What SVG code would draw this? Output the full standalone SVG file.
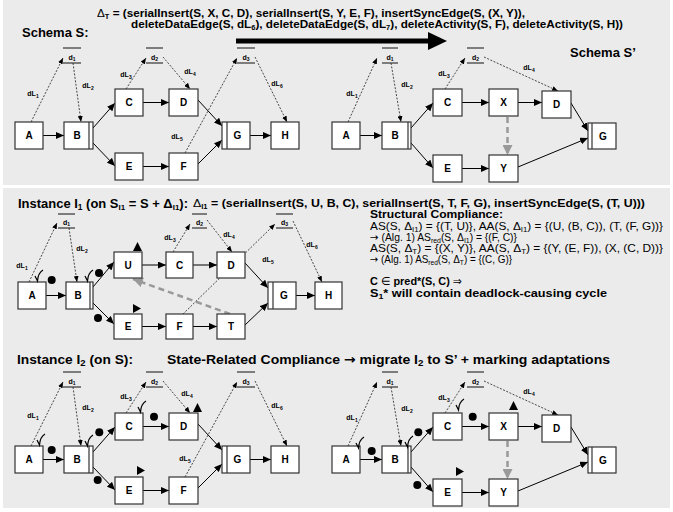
<svg xmlns="http://www.w3.org/2000/svg" width="673" height="512" viewBox="0 0 673 512">
<style>
text{font-family:"Liberation Sans",Arial,sans-serif}
.sym{font-family:"DejaVu Sans",sans-serif}
.box{fill:#fff;stroke:#333;stroke-width:1.2}
.in{stroke:#333;stroke-width:1.2}
.lb{font-size:10px;font-weight:bold;text-anchor:middle}
.ce{stroke:#000;stroke-width:1;fill:none;marker-end:url(#ah)}
.de{stroke:#000;stroke-width:0.7;stroke-dasharray:2,1.5;fill:none;marker-end:url(#dh)}
.bar{stroke:#333;stroke-width:1.2}
.dl{font-size:7px;font-weight:bold;text-anchor:middle}
.dn{font-size:7px;font-weight:bold;text-anchor:middle}
.sync{stroke:#999;stroke-width:2.5;stroke-dasharray:6,4;fill:none;marker-end:url(#gh)}
.tick{stroke:#000;stroke-width:1.2;fill:none}
.tt{font-size:13px;font-weight:bold}
.dt{font-size:11px;font-weight:bold}
.dt2{font-size:10.5px;font-weight:bold}
.sc{font-size:10.5px}
.sb{font-size:11.5px;font-weight:bold}
</style>
<defs>
<marker id="ah" markerUnits="userSpaceOnUse" markerWidth="8" markerHeight="7" refX="8" refY="3.5" orient="auto"><path d="M0,0 L8,3.5 L0,7 z" fill="#000"/></marker>
<marker id="dh" markerUnits="userSpaceOnUse" markerWidth="6" markerHeight="5" refX="6" refY="2.5" orient="auto"><path d="M0,0 L6,2.5 L0,5 z" fill="#000"/></marker>
<marker id="gh" markerUnits="userSpaceOnUse" markerWidth="10" markerHeight="10" refX="10" refY="5" orient="auto"><path d="M0,0 L10,5 L0,10 z" fill="#999"/></marker>
<path id="tk" d="M0,6 L2.5,11 Q3,3 8,0" class="tick"/>
<path id="tu" d="M0,9 L4.5,0 L9,9 z" fill="#000"/>
<path id="tr" d="M0,0 L8,4.5 L0,9 z" fill="#000"/>
</defs>
<rect x="0" y="0" width="673" height="512" fill="#fff"/>
<rect x="3" y="0" width="667" height="185" fill="#ebebeb"/>
<rect x="3" y="188" width="667" height="320" fill="#ebebeb"/>

<!-- headers -->
<g id="header">
<text class="tt" x="22" y="37">Schema S:</text>
<text class="tt" x="570" y="57">Schema S’</text>
<text class="dt" x="97" y="17" textLength="428" lengthAdjust="spacingAndGlyphs"><tspan font-weight="normal">Δ</tspan><tspan font-size="7" dy="2">T</tspan><tspan dy="-2"> = (serialInsert(S, X, C, D), serialInsert(S, Y, E, F), insertSyncEdge(S, (X, Y)),</tspan></text>
<text class="dt" x="131" y="28" textLength="492" lengthAdjust="spacingAndGlyphs">deleteDataEdge(S, dL<tspan font-size="7" dy="2">6</tspan><tspan dy="-2">), deleteDataEdge(S, dL</tspan><tspan font-size="7" dy="2">7</tspan><tspan dy="-2">), deleteActivity(S, F), deleteActivity(S, H))</tspan></text>
<line x1="236" y1="41" x2="430" y2="41" stroke="#000" stroke-width="5"/>
<polygon points="428,32 447,41 428,50" fill="#000"/>
</g>

<!-- Schema S -->
<g id="schemaS">
<g id="S-connectors">
<path class="ce" d="M43,135.5 L64,135.5"/>
<path class="ce" d="M93,128 L115,103"/>
<path class="ce" d="M93,143 L115,166"/>
<path class="ce" d="M143,102.5 L169,102.5"/>
<path class="ce" d="M143,166.5 L169,166.5"/>
<path class="ce" d="M198,100 L222,126"/>
<path class="ce" d="M198,164 L222,140"/>
<path class="ce" d="M250,135.5 L271,135.5"/>
<path class="de" d="M31,122 L63,58"/>
<path class="de" d="M73,63 L81,122"/>
<path class="de" d="M126,89 L146,58"/>
<path class="de" d="M163,57 L190,89"/>
<path class="de" d="M185,153 L237,58"/>
<path class="de" d="M255,57 L287,122"/>
<text class="dl" x="33" y="96">dL<tspan font-size="5" dy="1.5">1</tspan></text>
<text class="dl" x="88" y="88">dL<tspan font-size="5" dy="1.5">2</tspan></text>
<text class="dl" x="126" y="77">dL<tspan font-size="5" dy="1.5">3</tspan></text>
<text class="dl" x="190" y="74">dL<tspan font-size="5" dy="1.5">4</tspan></text>
<text class="dl" x="177" y="139">dL<tspan font-size="5" dy="1.5">5</tspan></text>
<text class="dl" x="277" y="86">dL<tspan font-size="5" dy="1.5">6</tspan></text>
</g>
<g id="S-d1"><line class="bar" x1="63" y1="48" x2="81" y2="48"/><line class="bar" x1="63" y1="63" x2="81" y2="63"/><text class="dn" x="72" y="60">d<tspan font-size="5" dy="1">1</tspan></text></g>
<g id="S-d2"><line class="bar" x1="146" y1="48" x2="163" y2="48"/><line class="bar" x1="146" y1="63" x2="163" y2="63"/><text class="dn" x="154.5" y="60">d<tspan font-size="5" dy="1">2</tspan></text></g>
<g id="S-d3"><line class="bar" x1="237" y1="48" x2="255" y2="48"/><line class="bar" x1="237" y1="63" x2="255" y2="63"/><text class="dn" x="246" y="60">d<tspan font-size="5" dy="1">3</tspan></text></g>
<g id="S-A"><rect class="box" x="15" y="122" width="28" height="27"/><text class="lb" x="29" y="139">A</text></g>
<g id="S-B"><rect class="box" x="64" y="122" width="29" height="27"/><line class="in" x1="89" y1="122" x2="89" y2="149"/><text class="lb" x="77" y="139">B</text></g>
<g id="S-C"><rect class="box" x="115" y="89" width="28" height="27"/><text class="lb" x="129" y="106">C</text></g>
<g id="S-D"><rect class="box" x="169" y="89" width="29" height="27"/><text class="lb" x="183.5" y="106">D</text></g>
<g id="S-E"><rect class="box" x="115" y="153" width="28" height="27"/><text class="lb" x="129" y="170">E</text></g>
<g id="S-F"><rect class="box" x="169" y="153" width="29" height="27"/><text class="lb" x="183.5" y="170">F</text></g>
<g id="S-G"><rect class="box" x="222" y="122" width="28" height="27"/><line class="in" x1="227" y1="122" x2="227" y2="149"/><text class="lb" x="237.5" y="139">G</text></g>
<g id="S-H"><rect class="box" x="271" y="122" width="28" height="27"/><text class="lb" x="285" y="139">H</text></g>
</g>

<!-- Schema S' -->
<g id="schemaS2">
<g id="S2-connectors">
<path class="ce" d="M360,135.5 L382,135.5"/>
<path class="ce" d="M411,128 L433,103"/>
<path class="ce" d="M411,143 L433,168"/>
<path class="ce" d="M462,102.5 L489,102.5"/>
<path class="ce" d="M518,102.5 L542,102.5"/>
<path class="ce" d="M462,168.5 L489,168.5"/>
<path class="ce" d="M571,103 L588,131"/>
<path class="ce" d="M518,167 L588,138"/>
<path class="sync" d="M507.5,117 L507.5,155"/>
<path class="de" d="M348,122 L377,58"/>
<path class="de" d="M391,63 L401,122"/>
<path class="de" d="M445,89 L465,58"/>
<path class="de" d="M484,57 L558,91"/>
<text class="dl" x="352" y="96">dL<tspan font-size="5" dy="1.5">1</tspan></text>
<text class="dl" x="407" y="87">dL<tspan font-size="5" dy="1.5">2</tspan></text>
<text class="dl" x="444" y="76">dL<tspan font-size="5" dy="1.5">3</tspan></text>
<text class="dl" x="529" y="70">dL<tspan font-size="5" dy="1.5">4</tspan></text>
</g>
<g id="S2-d1"><line class="bar" x1="382" y1="48" x2="398" y2="48"/><line class="bar" x1="382" y1="63" x2="398" y2="63"/><text class="dn" x="390" y="60">d<tspan font-size="5" dy="1">1</tspan></text></g>
<g id="S2-d2"><line class="bar" x1="467" y1="48" x2="484" y2="48"/><line class="bar" x1="467" y1="63" x2="484" y2="63"/><text class="dn" x="475.5" y="60">d<tspan font-size="5" dy="1">2</tspan></text></g>
<g id="S2-A"><rect class="box" x="332" y="122" width="28" height="27"/><text class="lb" x="346" y="139">A</text></g>
<g id="S2-B"><rect class="box" x="382" y="122" width="29" height="27"/><line class="in" x1="408" y1="122" x2="408" y2="149"/><text class="lb" x="395" y="139">B</text></g>
<g id="S2-C"><rect class="box" x="433" y="89" width="29" height="27"/><text class="lb" x="447.5" y="106">C</text></g>
<g id="S2-X"><rect class="box" x="489" y="89" width="29" height="27"/><text class="lb" x="503.5" y="106">X</text></g>
<g id="S2-D"><rect class="box" x="542" y="91" width="29" height="27"/><text class="lb" x="556.5" y="108">D</text></g>
<g id="S2-E"><rect class="box" x="433" y="155" width="29" height="27"/><text class="lb" x="447.5" y="172">E</text></g>
<g id="S2-Y"><rect class="box" x="489" y="155" width="29" height="27"/><text class="lb" x="503.5" y="172">Y</text></g>
<g id="S2-G"><rect class="box" x="588" y="123" width="28" height="26"/><line class="in" x1="592" y1="123" x2="592" y2="149"/><text class="lb" x="603" y="140">G</text></g>
</g>

<!-- Instance I1 -->
<g id="instanceI1">
<text class="tt" x="18" y="208" textLength="170" lengthAdjust="spacingAndGlyphs">Instance I<tspan font-size="8.5" dy="2">1</tspan><tspan dy="-2"> (on S</tspan><tspan font-size="8" dy="2">I1</tspan><tspan dy="-2">  = S + Δ</tspan><tspan font-size="8" dy="2">I1</tspan><tspan dy="-2">):</tspan></text>
<text class="dt2" x="193" y="207" textLength="452" lengthAdjust="spacingAndGlyphs"><tspan font-weight="normal">Δ</tspan><tspan font-size="6.5" dy="2">I1</tspan><tspan dy="-2"> = (serialInsert(S, U, B, C), serialInsert(S, T, F, G), insertSyncEdge(S, (T, U)))</tspan></text>
<g id="I1-connectors">
<path class="ce" d="M46,295.5 L66,295.5"/>
<path class="ce" d="M93,287 L114,262"/>
<path class="ce" d="M93,303 L114,324"/>
<path class="ce" d="M142,265 L166,265"/>
<path class="ce" d="M193,265 L217,265"/>
<path class="ce" d="M142,326.5 L166,326.5"/>
<path class="ce" d="M193,326.5 L217,326.5"/>
<path class="ce" d="M245,263 L268,288"/>
<path class="ce" d="M245,325 L268,303"/>
<path class="ce" d="M296,295.5 L315,295.5"/>
<path class="sync" d="M230,314 L133,279"/>
<path class="de" d="M29,282 L57,223"/>
<path class="de" d="M69,228 L77,282"/>
<path class="de" d="M173,252 L190,224"/>
<path class="de" d="M207,220 L232,252"/>
<path class="de" d="M183,314 L275,224"/>
<path class="de" d="M293,221 L322,282"/>
<text class="dl" x="22" y="268">dL<tspan font-size="5" dy="1.5">1</tspan></text>
<text class="dl" x="82" y="251">dL<tspan font-size="5" dy="1.5">2</tspan></text>
<text class="dl" x="170" y="240">dL<tspan font-size="5" dy="1.5">3</tspan></text>
<text class="dl" x="229" y="237">dL<tspan font-size="5" dy="1.5">4</tspan></text>
<text class="dl" x="268" y="262">dL<tspan font-size="5" dy="1.5">5</tspan></text>
<text class="dl" x="312" y="247">dL<tspan font-size="5" dy="1.5">6</tspan></text>
</g>
<g id="I1-d1"><line class="bar" x1="58" y1="214" x2="75" y2="214"/><line class="bar" x1="58" y1="228" x2="75" y2="228"/><text class="dn" x="66.5" y="225">d<tspan font-size="5" dy="1">1</tspan></text></g>
<g id="I1-d2"><line class="bar" x1="192" y1="214" x2="207" y2="214"/><line class="bar" x1="192" y1="228" x2="207" y2="228"/><text class="dn" x="199.5" y="225">d<tspan font-size="5" dy="1">2</tspan></text></g>
<g id="I1-d3"><line class="bar" x1="276" y1="214" x2="293" y2="214"/><line class="bar" x1="276" y1="228" x2="293" y2="228"/><text class="dn" x="284.5" y="225">d<tspan font-size="5" dy="1">3</tspan></text></g>
<g id="I1-A"><rect class="box" x="18" y="282" width="28" height="27"/><text class="lb" x="32" y="299">A</text></g>
<g id="I1-B"><rect class="box" x="66" y="282" width="27" height="27"/><line class="in" x1="90" y1="282" x2="90" y2="309"/><text class="lb" x="78" y="299">B</text></g>
<g id="I1-U"><rect class="box" x="114" y="252" width="28" height="26"/><text class="lb" x="128" y="269">U</text></g>
<g id="I1-C"><rect class="box" x="166" y="252" width="27" height="26"/><text class="lb" x="179.5" y="269">C</text></g>
<g id="I1-D"><rect class="box" x="217" y="252" width="28" height="26"/><text class="lb" x="231" y="269">D</text></g>
<g id="I1-E"><rect class="box" x="114" y="314" width="28" height="25"/><text class="lb" x="128" y="330">E</text></g>
<g id="I1-F"><rect class="box" x="166" y="314" width="27" height="25"/><text class="lb" x="179.5" y="330">F</text></g>
<g id="I1-T"><rect class="box" x="217" y="314" width="28" height="25"/><text class="lb" x="231" y="330">T</text></g>
<g id="I1-G"><rect class="box" x="268" y="282" width="28" height="27"/><line class="in" x1="273" y1="282" x2="273" y2="309"/><text class="lb" x="284" y="299">G</text></g>
<g id="I1-H"><rect class="box" x="315" y="282" width="27" height="27"/><text class="lb" x="328.5" y="299">H</text></g>
<g id="I1-marks">
<use href="#tk" x="35" y="270"/>
<circle cx="51.7" cy="280" r="4"/>
<use href="#tk" x="85" y="270"/>
<circle cx="99" cy="273" r="4"/>
<use href="#tu" x="133" y="242"/>
<circle cx="98" cy="318" r="4"/>
<use href="#tr" x="133" y="304"/>
</g>
<g id="compliance">
<text class="sb" x="370" y="218" textLength="133" lengthAdjust="spacingAndGlyphs">Structural Compliance:</text>
<text class="sc" x="370" y="230" textLength="293" lengthAdjust="spacingAndGlyphs">AS(S, Δ<tspan font-size="7" dy="1.5">I1</tspan><tspan dy="-1.5">) = {(T, U)}, AA(S, Δ</tspan><tspan font-size="7" dy="1.5">I1</tspan><tspan dy="-1.5">) = {(U, (B, C)), (T, (F, G))}</tspan></text>
<text class="sc" x="370" y="241" textLength="147" lengthAdjust="spacingAndGlyphs"><tspan class="sym">→</tspan> (Alg. 1) AS<tspan font-size="7" dy="1.5">red</tspan><tspan dy="-1.5">(S, Δ</tspan><tspan font-size="7" dy="1.5">I1</tspan><tspan dy="-1.5">) = {(F, C)}</tspan></text>
<text class="sc" x="370" y="252" textLength="293" lengthAdjust="spacingAndGlyphs">AS(S, Δ<tspan font-size="7" dy="1.5">T</tspan><tspan dy="-1.5">) = {(X, Y)}, AA(S, Δ</tspan><tspan font-size="7" dy="1.5">T</tspan><tspan dy="-1.5">) = {(Y, (E, F)), (X, (C, D))}</tspan></text>
<text class="sc" x="370" y="263" textLength="142" lengthAdjust="spacingAndGlyphs"><tspan class="sym">→</tspan> (Alg. 1) AS<tspan font-size="7" dy="1.5">red</tspan><tspan dy="-1.5">(S, Δ</tspan><tspan font-size="7" dy="1.5">T</tspan><tspan dy="-1.5">) = {(C, G)}</tspan></text>
<text class="sb" x="370" y="285" textLength="92" lengthAdjust="spacingAndGlyphs">C <tspan class="sym" font-weight="normal">∈</tspan> pred*(S, C) <tspan class="sym" font-weight="normal">⇒</tspan></text>
<text class="sb" x="370" y="297" textLength="237" lengthAdjust="spacingAndGlyphs">S<tspan font-size="8" dy="2">1</tspan><tspan dy="-2">* will contain deadlock-causing cycle</tspan></text>
</g>
</g>

<!-- Instance I2 -->
<g id="instanceI2">
<text class="tt" x="17" y="364" textLength="116" lengthAdjust="spacingAndGlyphs">Instance I<tspan font-size="9" dy="2">2</tspan><tspan dy="-2"> (on S):</tspan></text>
<text class="tt" x="167" y="364" textLength="443" lengthAdjust="spacingAndGlyphs">State-Related Compliance <tspan class="sym">→</tspan> migrate I<tspan font-size="9" dy="2">2</tspan><tspan dy="-2"> to S’ + marking adaptations</tspan></text>
<g transform="translate(0,324)">
<g id="I2-connectors">
<path class="ce" d="M43,135.5 L64,135.5"/>
<path class="ce" d="M93,128 L115,103"/>
<path class="ce" d="M93,143 L115,166"/>
<path class="ce" d="M143,102.5 L169,102.5"/>
<path class="ce" d="M143,166.5 L169,166.5"/>
<path class="ce" d="M198,100 L222,126"/>
<path class="ce" d="M198,164 L222,140"/>
<path class="ce" d="M250,135.5 L271,135.5"/>
<path class="de" d="M31,122 L63,58"/>
<path class="de" d="M73,63 L81,122"/>
<path class="de" d="M126,89 L146,58"/>
<path class="de" d="M163,57 L190,89"/>
<path class="de" d="M185,153 L237,58"/>
<path class="de" d="M255,57 L287,122"/>
<text class="dl" x="33" y="94">dL<tspan font-size="5" dy="1.5">1</tspan></text>
<text class="dl" x="88" y="86">dL<tspan font-size="5" dy="1.5">2</tspan></text>
<text class="dl" x="126" y="75">dL<tspan font-size="5" dy="1.5">3</tspan></text>
<text class="dl" x="187" y="72">dL<tspan font-size="5" dy="1.5">4</tspan></text>
<text class="dl" x="185" y="137">dL<tspan font-size="5" dy="1.5">5</tspan></text>
<text class="dl" x="277" y="84">dL<tspan font-size="5" dy="1.5">6</tspan></text>
</g>
<g id="I2-d1"><line class="bar" x1="63" y1="48" x2="81" y2="48"/><line class="bar" x1="63" y1="63" x2="81" y2="63"/><text class="dn" x="72" y="60">d<tspan font-size="5" dy="1">1</tspan></text></g>
<g id="I2-d2"><line class="bar" x1="146" y1="48" x2="163" y2="48"/><line class="bar" x1="146" y1="63" x2="163" y2="63"/><text class="dn" x="154.5" y="60">d<tspan font-size="5" dy="1">2</tspan></text></g>
<g id="I2-d3"><line class="bar" x1="237" y1="48" x2="255" y2="48"/><line class="bar" x1="237" y1="63" x2="255" y2="63"/><text class="dn" x="246" y="60">d<tspan font-size="5" dy="1">3</tspan></text></g>
<g id="I2-A"><rect class="box" x="15" y="122" width="28" height="27"/><text class="lb" x="29" y="139">A</text></g>
<g id="I2-B"><rect class="box" x="64" y="122" width="29" height="27"/><line class="in" x1="89" y1="122" x2="89" y2="149"/><text class="lb" x="77" y="139">B</text></g>
<g id="I2-C"><rect class="box" x="115" y="89" width="28" height="27"/><text class="lb" x="129" y="106">C</text></g>
<g id="I2-D"><rect class="box" x="169" y="89" width="29" height="27"/><text class="lb" x="183.5" y="106">D</text></g>
<g id="I2-E"><rect class="box" x="115" y="153" width="28" height="27"/><text class="lb" x="129" y="170">E</text></g>
<g id="I2-F"><rect class="box" x="169" y="153" width="29" height="27"/><text class="lb" x="183.5" y="170">F</text></g>
<g id="I2-G"><rect class="box" x="222" y="122" width="28" height="27"/><line class="in" x1="227" y1="122" x2="227" y2="149"/><text class="lb" x="237.5" y="139">G</text></g>
<g id="I2-H"><rect class="box" x="271" y="122" width="28" height="27"/><text class="lb" x="285" y="139">H</text></g>
</g>
<g id="I2-marks">
<use href="#tk" x="37" y="434"/>
<circle cx="51.7" cy="450" r="4"/>
<use href="#tk" x="85" y="435"/>
<circle cx="99.3" cy="432.3" r="4"/>
<use href="#tk" x="138" y="401"/>
<circle cx="154" cy="416.7" r="4"/>
<use href="#tu" x="193" y="403"/>
<circle cx="97.7" cy="480" r="4"/>
<use href="#tr" x="137" y="466"/>
</g>
</g>

<!-- Migrated I2 on S' -->
<g id="instanceI2migrated">
<g transform="translate(0,324)">
<g id="M-connectors">
<path class="ce" d="M360,135.5 L382,135.5"/>
<path class="ce" d="M411,128 L433,103"/>
<path class="ce" d="M411,143 L433,168"/>
<path class="ce" d="M462,102.5 L489,102.5"/>
<path class="ce" d="M518,102.5 L542,102.5"/>
<path class="ce" d="M462,168.5 L489,168.5"/>
<path class="ce" d="M571,103 L588,131"/>
<path class="ce" d="M518,167 L588,138"/>
<path class="sync" d="M507.5,117 L507.5,155"/>
<path class="de" d="M348,122 L377,58"/>
<path class="de" d="M391,63 L401,122"/>
<path class="de" d="M445,89 L465,58"/>
<path class="de" d="M484,57 L558,91"/>
<text class="dl" x="352" y="96">dL<tspan font-size="5" dy="1.5">1</tspan></text>
<text class="dl" x="407" y="87">dL<tspan font-size="5" dy="1.5">2</tspan></text>
<text class="dl" x="444" y="76">dL<tspan font-size="5" dy="1.5">3</tspan></text>
<text class="dl" x="529" y="70">dL<tspan font-size="5" dy="1.5">4</tspan></text>
</g>
<g id="M-d1"><line class="bar" x1="382" y1="48" x2="398" y2="48"/><line class="bar" x1="382" y1="63" x2="398" y2="63"/><text class="dn" x="390" y="60">d<tspan font-size="5" dy="1">1</tspan></text></g>
<g id="M-d2"><line class="bar" x1="467" y1="48" x2="484" y2="48"/><line class="bar" x1="467" y1="63" x2="484" y2="63"/><text class="dn" x="475.5" y="60">d<tspan font-size="5" dy="1">2</tspan></text></g>
<g id="M-A"><rect class="box" x="332" y="122" width="28" height="27"/><text class="lb" x="346" y="139">A</text></g>
<g id="M-B"><rect class="box" x="382" y="122" width="29" height="27"/><line class="in" x1="408" y1="122" x2="408" y2="149"/><text class="lb" x="395" y="139">B</text></g>
<g id="M-C"><rect class="box" x="433" y="89" width="29" height="27"/><text class="lb" x="447.5" y="106">C</text></g>
<g id="M-X"><rect class="box" x="489" y="89" width="29" height="27"/><text class="lb" x="503.5" y="106">X</text></g>
<g id="M-D"><rect class="box" x="542" y="91" width="29" height="27"/><text class="lb" x="556.5" y="108">D</text></g>
<g id="M-E"><rect class="box" x="433" y="155" width="29" height="27"/><text class="lb" x="447.5" y="172">E</text></g>
<g id="M-Y"><rect class="box" x="489" y="155" width="29" height="27"/><text class="lb" x="503.5" y="172">Y</text></g>
<g id="M-G"><rect class="box" x="588" y="123" width="28" height="26"/><line class="in" x1="592" y1="123" x2="592" y2="149"/><text class="lb" x="603" y="140">G</text></g>
</g>
<g id="M-marks">
<use href="#tk" x="356" y="437"/>
<circle cx="371.7" cy="451" r="4"/>
<use href="#tk" x="405" y="436"/>
<circle cx="418.3" cy="432.3" r="4"/>
<use href="#tk" x="456" y="399"/>
<circle cx="472.7" cy="416.7" r="4"/>
<use href="#tu" x="509" y="401"/>
<circle cx="417.3" cy="485" r="4"/>
<use href="#tr" x="456" y="467"/>
</g>
</g>
</svg>
